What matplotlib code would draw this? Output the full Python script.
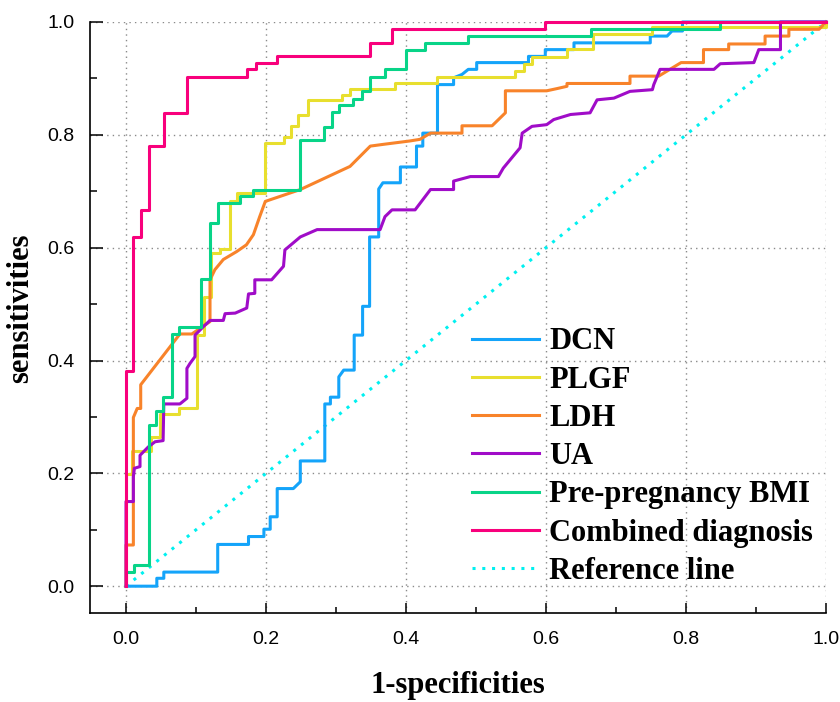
import matplotlib
matplotlib.use('Agg')
import matplotlib.pyplot as plt
from matplotlib.ticker import MultipleLocator

# ROC curve vertices (fpr, tpr)
dcn_fpr = [0, 0.044, 0.044, 0.054, 0.054, 0.131, 0.131, 0.175, 0.175, 0.197, 0.197, 0.206, 0.206,
           0.216, 0.216, 0.239, 0.249, 0.249, 0.284, 0.284, 0.292, 0.292, 0.304, 0.304, 0.311,
           0.326, 0.326, 0.338, 0.338, 0.348, 0.348, 0.361, 0.361, 0.367, 0.392, 0.392, 0.415,
           0.415, 0.424, 0.424, 0.445, 0.445, 0.468, 0.468, 0.480, 0.489, 0.501, 0.501, 0.575,
           0.575, 0.599, 0.599, 0.640, 0.640, 0.749, 0.749, 0.773, 0.780, 0.795, 0.795, 1.0]
dcn_tpr = [0, 0, 0.014, 0.014, 0.025, 0.025, 0.074, 0.074, 0.088, 0.088, 0.101, 0.101, 0.123,
           0.123, 0.173, 0.173, 0.185, 0.222, 0.222, 0.323, 0.323, 0.335, 0.335, 0.371, 0.383,
           0.383, 0.445, 0.445, 0.496, 0.496, 0.619, 0.619, 0.704, 0.715, 0.715, 0.743, 0.743,
           0.780, 0.780, 0.803, 0.803, 0.889, 0.889, 0.901, 0.907, 0.916, 0.916, 0.928, 0.928,
           0.939, 0.939, 0.951, 0.951, 0.963, 0.963, 0.975, 0.975, 0.984, 0.984, 1.0, 1.0]

plgf_fpr = [0, 0, 0.008, 0.008, 0.035, 0.035, 0.049, 0.049, 0.075, 0.075, 0.101, 0.101, 0.112,
            0.112, 0.122, 0.122, 0.134, 0.134, 0.148, 0.148, 0.159, 0.159, 0.199, 0.199, 0.225,
            0.225, 0.235, 0.235, 0.246, 0.246, 0.260, 0.260, 0.308, 0.308, 0.320, 0.320, 0.385,
            0.385, 0.444, 0.444, 0.556, 0.556, 0.568, 0.568, 0.580, 0.580, 0.630, 0.630, 0.667,
            0.667, 0.752, 0.752, 1.0, 1.0]
plgf_tpr = [0, 0.198, 0.198, 0.240, 0.240, 0.264, 0.264, 0.305, 0.305, 0.316, 0.316, 0.445, 0.445,
            0.513, 0.513, 0.590, 0.590, 0.597, 0.597, 0.682, 0.682, 0.697, 0.697, 0.786, 0.786,
            0.796, 0.796, 0.815, 0.815, 0.836, 0.836, 0.861, 0.861, 0.871, 0.871, 0.882, 0.882,
            0.891, 0.891, 0.903, 0.903, 0.913, 0.913, 0.925, 0.925, 0.938, 0.938, 0.952, 0.952,
            0.978, 0.978, 0.991, 0.991, 1.0]

ldh_fpr = [0, 0, 0.0105, 0.0105, 0.016, 0.021, 0.021, 0.077, 0.094, 0.120, 0.120, 0.127, 0.139,
           0.158, 0.172, 0.182, 0.191, 0.199, 0.249, 0.320, 0.349, 0.367, 0.405, 0.420, 0.435,
           0.480, 0.480, 0.523, 0.542, 0.542, 0.601, 0.616, 0.630, 0.630, 0.720, 0.720, 0.761,
           0.793, 0.825, 0.825, 0.861, 0.861, 0.913, 0.913, 0.947, 0.947, 0.990, 1.0]
ldh_tpr = [0, 0.073, 0.073, 0.299, 0.315, 0.315, 0.357, 0.447, 0.447, 0.469, 0.543, 0.561, 0.579,
           0.593, 0.605, 0.623, 0.655, 0.682, 0.703, 0.744, 0.780, 0.783, 0.789, 0.792, 0.803,
           0.803, 0.816, 0.816, 0.839, 0.878, 0.878, 0.882, 0.886, 0.891, 0.891, 0.904, 0.904,
           0.928, 0.928, 0.951, 0.951, 0.961, 0.961, 0.975, 0.975, 0.987, 0.987, 1.0]

ua_fpr = [0, 0, 0.0105, 0.0105, 0.012, 0.020, 0.020, 0.032, 0.0415, 0.053, 0.054, 0.077, 0.087,
          0.087, 0.0915, 0.0986, 0.0986, 0.1105, 0.120, 0.139, 0.1415, 0.156, 0.1725, 0.175,
          0.184, 0.184, 0.208, 0.225, 0.227, 0.249, 0.273, 0.363, 0.370, 0.380, 0.413, 0.435,
          0.468, 0.468, 0.492, 0.532, 0.539, 0.563, 0.566, 0.580, 0.601, 0.611, 0.635, 0.663,
          0.673, 0.697, 0.720, 0.752, 0.754, 0.763, 0.840, 0.849, 0.897, 0.904, 0.935, 0.935, 1.0]
ua_tpr = [0, 0.150, 0.150, 0.194, 0.209, 0.212, 0.232, 0.247, 0.256, 0.258, 0.323, 0.323, 0.333,
          0.386, 0.395, 0.407, 0.445, 0.460, 0.471, 0.471, 0.483, 0.484, 0.493, 0.518, 0.519,
          0.543, 0.543, 0.567, 0.596, 0.619, 0.632, 0.632, 0.655, 0.667, 0.667, 0.703, 0.703,
          0.718, 0.726, 0.726, 0.741, 0.777, 0.803, 0.815, 0.818, 0.827, 0.836, 0.839, 0.862,
          0.865, 0.877, 0.880, 0.889, 0.916, 0.916, 0.926, 0.928, 0.951, 0.951, 1.0, 1.0]

bmi_fpr = [0, 0, 0.012, 0.012, 0.033, 0.033, 0.043, 0.043, 0.053, 0.053, 0.065, 0.065, 0.076,
           0.076, 0.107, 0.107, 0.120, 0.120, 0.131, 0.131, 0.163, 0.163, 0.182, 0.182, 0.249,
           0.249, 0.283, 0.283, 0.294, 0.294, 0.304, 0.304, 0.325, 0.325, 0.337, 0.337, 0.348,
           0.348, 0.370, 0.370, 0.400, 0.400, 0.427, 0.427, 0.489, 0.489, 0.664, 0.664, 0.848,
           0.848, 1.0]
bmi_tpr = [0, 0.025, 0.025, 0.038, 0.038, 0.286, 0.286, 0.311, 0.311, 0.335, 0.335, 0.447, 0.447,
           0.460, 0.460, 0.544, 0.544, 0.644, 0.644, 0.680, 0.680, 0.692, 0.692, 0.703, 0.703,
           0.791, 0.791, 0.814, 0.814, 0.840, 0.840, 0.852, 0.852, 0.864, 0.864, 0.877, 0.877,
           0.903, 0.903, 0.916, 0.916, 0.951, 0.951, 0.963, 0.963, 0.975, 0.975, 0.987, 0.987,
           1.0, 1.0]

comb_fpr = [0, 0, 0.0105, 0.0105, 0.022, 0.022, 0.033, 0.033, 0.054, 0.054, 0.087, 0.087, 0.173,
            0.173, 0.186, 0.186, 0.216, 0.216, 0.348, 0.348, 0.380, 0.380, 0.599, 0.599, 1.0]
comb_tpr = [0, 0.382, 0.382, 0.619, 0.619, 0.666, 0.666, 0.780, 0.780, 0.839, 0.839, 0.902, 0.902,
            0.916, 0.916, 0.928, 0.928, 0.939, 0.939, 0.963, 0.963, 0.988, 0.988, 1.0, 1.0]

ref_x = [0, 1]
ref_y = [0, 1]

labels = ['DCN', 'PLGF', 'LDH', 'UA', 'Pre-pregnancy BMI', 'Combined diagnosis']
colors = ['#14A4FA', '#E8DF2E', '#F8832A', '#A00CC8', '#08D488', '#F8007C']
curves = [(dcn_fpr, dcn_tpr), (plgf_fpr, plgf_tpr), (ldh_fpr, ldh_tpr),
          (ua_fpr, ua_tpr), (bmi_fpr, bmi_tpr), (comb_fpr, comb_tpr)]

fig = plt.figure(figsize=(8.4, 7.02), dpi=100)
ax = fig.add_axes([0.1071, 0.1272, 0.8762, 0.8415])

for (fx, ty), lab, col in zip(curves, labels, colors):
    ax.plot(fx, ty, color=col, lw=2.2, label=lab, clip_on=False, zorder=3)
ax.plot(ref_x, ref_y, color='#00F0F0', lw=2.2, ls=(0, (1, 2.2)), label='Reference line',
        clip_on=False, zorder=2)

ax.set_xlim(-0.0515, 1.0)
ax.set_ylim(-0.047, 1.0)
ax.xaxis.set_major_locator(MultipleLocator(0.2))
ax.xaxis.set_minor_locator(MultipleLocator(0.1))
ax.yaxis.set_major_locator(MultipleLocator(0.2))
ax.yaxis.set_minor_locator(MultipleLocator(0.1))
ax.xaxis.set_major_formatter(lambda v, p: f'{v:.1f}')
ax.yaxis.set_major_formatter(lambda v, p: f'{v:.1f}')

ax.spines['top'].set_visible(False)
ax.spines['right'].set_visible(False)
for s in ['left', 'bottom']:
    ax.spines[s].set_linewidth(1.2)

ax.tick_params(axis='y', which='major', direction='in', length=9.5, width=1.1, pad=11)
ax.tick_params(axis='y', which='minor', direction='in', length=5, width=1.1)
ax.tick_params(axis='x', which='major', direction='in', length=7.5, width=1.1, pad=13)
ax.tick_params(axis='x', which='minor', direction='in', length=4, width=1.1)
for lbl in ax.get_xticklabels() + ax.get_yticklabels():
    lbl.set_fontfamily('Liberation Sans')
    lbl.set_fontsize(14)

ax.grid(True, which='major', color='#8a8a8a', lw=1.0, ls=(0, (1, 3)))
ax.set_axisbelow(True)

label_font = dict(family='Liberation Serif', weight='bold', size=22)
ax.set_xlabel('1-specificities', labelpad=17, **label_font)
ax.set_ylabel('sensitivities', labelpad=9, **label_font)
ax.yaxis.label.set_y(0.516)

leg = ax.legend(loc='lower left', bbox_to_anchor=(0.519, 0.045), frameon=False,
                prop=dict(family='Liberation Serif', weight='bold', size=22),
                handlelength=2.2, handletextpad=0.33, labelspacing=0.305, borderpad=0,
                borderaxespad=0)

fig.savefig('out.png', dpi=100)
